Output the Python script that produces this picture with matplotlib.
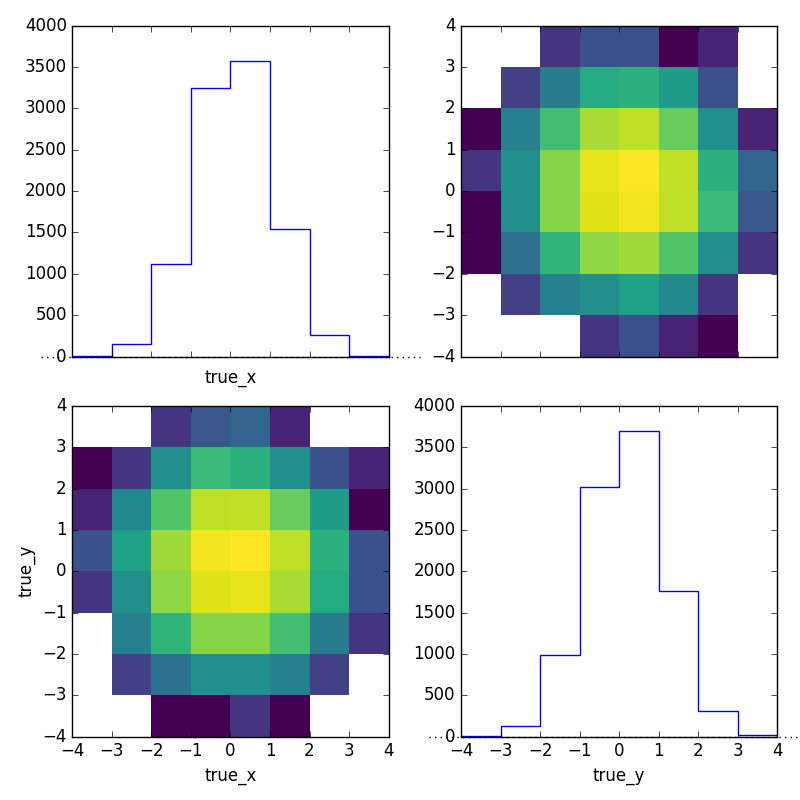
import numpy as np
import matplotlib
matplotlib.use("Agg")
import matplotlib.pyplot as plt
from matplotlib.colors import LogNorm

edges = np.arange(-4, 5, 1)

# 1D histogram counts
count_x = np.array([8, 157, 1117, 3246, 3573, 1540, 262, 8])
count_y = np.array([5, 125, 984, 3016, 3698, 1758, 310, 20])

# 2D counts: rows = true_y bins (-4..4, bottom to top), cols = true_x bins
counts_xy = np.array([
    [0, 0, 1, 1, 3, 1, 0, 0],
    [0, 4, 14, 36, 36, 22, 4, 0],
    [0, 22, 107, 360, 360, 152, 20, 3],
    [3, 36, 390, 920, 1000, 520, 80, 6],
    [6, 60, 480, 1150, 1320, 640, 99, 6],
    [2, 29, 189, 640, 660, 250, 52, 1],
    [1, 3, 36, 132, 99, 36, 6, 2],
    [0, 0, 3, 7, 10, 2, 0, 0],
])

plt.style.use("classic")
fig, axes = plt.subplots(2, 2, figsize=(8, 8), dpi=100, facecolor="white")
fig.subplots_adjust(left=0.0904, right=0.9716, bottom=0.0791, top=0.9679,
                    wspace=0.229, hspace=0.149)

masked = np.ma.masked_equal(counts_xy, 0)
norm = LogNorm(vmin=1, vmax=counts_xy.max())

def draw_hist(ax, values, label):
    ax.hist(edges[:-1], bins=edges, weights=values, histtype="step", color="b")
    ax.axhline(0, xmin=-0.1, xmax=1.1, ls=":", color="k", lw=1, clip_on=False)
    ax.set_xlim(-4, 4)
    ax.set_ylim(0, 4000)
    ax.set_xlabel(label)

# top-left: true_x histogram
ax = axes[0, 0]
draw_hist(ax, count_x, "true_x")
ax.set_xticklabels([])

# top-right: 2D, x = true_y, y = true_x
ax = axes[0, 1]
ax.pcolormesh(edges, edges, masked.T, cmap="viridis", norm=norm)
ax.set_xlim(-4, 4)
ax.set_ylim(-4, 4)
ax.set_xticklabels([])

# bottom-left: 2D, x = true_x, y = true_y
ax = axes[1, 0]
ax.pcolormesh(edges, edges, masked, cmap="viridis", norm=norm)
ax.set_xlim(-4, 4)
ax.set_ylim(-4, 4)
ax.set_xlabel("true_x")
ax.set_ylabel("true_y")

# bottom-right: true_y histogram
ax = axes[1, 1]
draw_hist(ax, count_y, "true_y")

fig.savefig("out.png", facecolor="white")
